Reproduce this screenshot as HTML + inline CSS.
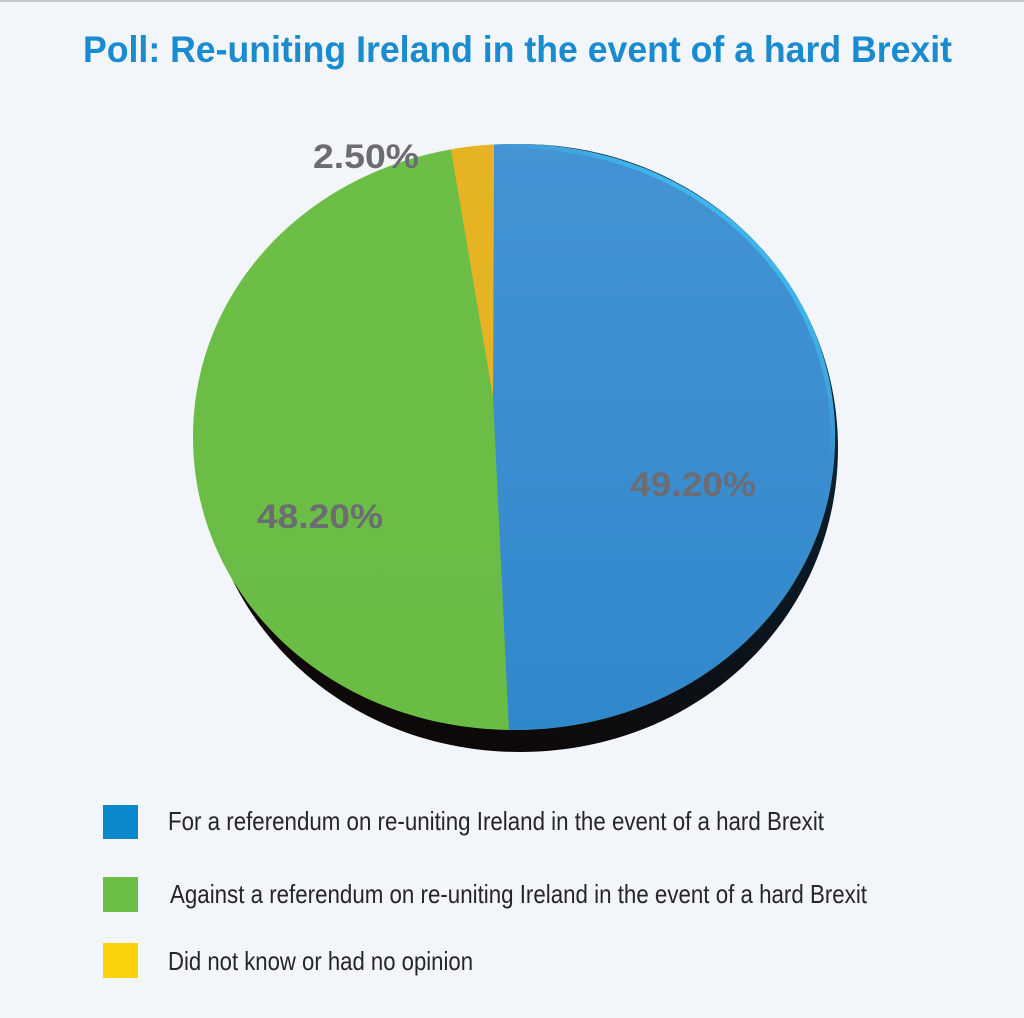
<!DOCTYPE html>
<html>
<head>
<meta charset="utf-8">
<style>
html,body{margin:0;padding:0;background:#f2f5fa;}
svg{display:block;}
</style>
</head>
<body>
<svg width="1024" height="1018" viewBox="0 0 1024 1018" xmlns="http://www.w3.org/2000/svg">
<defs>
  <clipPath id="face">
    <path d="M835,437 C835,272.9 693.8,144 514,144 C334.2,144 193,272.9 193,437 C193,601.1 334.2,730 514,730 C693.8,730 835,601.1 835,437 Z"/>
  </clipPath>
  <linearGradient id="shadowG" x1="830" y1="300" x2="520" y2="752" gradientUnits="userSpaceOnUse">
    <stop offset="0" stop-color="#0d3550"/>
    <stop offset="0.35" stop-color="#0a1a26"/>
    <stop offset="1" stop-color="#0e0909"/>
  </linearGradient>
  <linearGradient id="blueG" x1="0" y1="144" x2="0" y2="730" gradientUnits="userSpaceOnUse">
    <stop offset="0" stop-color="#4493d3"/>
    <stop offset="0.5" stop-color="#3b8ed0"/>
    <stop offset="1" stop-color="#3088cc"/>
  </linearGradient>
  <linearGradient id="greenG" x1="0" y1="144" x2="0" y2="730" gradientUnits="userSpaceOnUse">
    <stop offset="0" stop-color="#6dbe47"/>
    <stop offset="1" stop-color="#6abc45"/>
  </linearGradient>
  <linearGradient id="rimG" x1="520" y1="500" x2="800" y2="200" gradientUnits="userSpaceOnUse">
    <stop offset="0" stop-color="#3cb9ee" stop-opacity="0"/>
    <stop offset="0.58" stop-color="#3cb9ee" stop-opacity="0"/>
    <stop offset="0.8" stop-color="#3cb9ee" stop-opacity="0.9"/>
    <stop offset="1" stop-color="#3cb9ee" stop-opacity="1"/>
  </linearGradient>
</defs>

<rect x="0" y="0" width="1024" height="1018" fill="#f2f5fa"/>
<rect x="0" y="0" width="1024" height="2" fill="#c6cacf"/>

<text x="83" y="62" font-family="'Liberation Sans', sans-serif" font-weight="bold" font-size="37" fill="#1b8bcf" textLength="869" lengthAdjust="spacingAndGlyphs">Poll: Re-uniting Ireland in the event of a hard Brexit</text>

<path d="M838,448 C838,277.8 698.1,144 520,144 C341.9,144 202,277.8 202,448 C202,618.2 341.9,752 520,752 C698.1,752 838,618.2 838,448 Z" fill="url(#shadowG)"/>

<g clip-path="url(#face)">
  <rect x="150" y="100" width="750" height="700" fill="url(#greenG)"/>
  <polygon points="494.2,100 900,100 900,800 512.3,800 493,397" fill="url(#blueG)"/>
  <polygon points="493,397 442.5,100 494.2,100" fill="#e6b423"/>
  <path d="M835,437 C835,272.9 693.8,144 514,144 C334.2,144 193,272.9 193,437 C193,601.1 334.2,730 514,730 C693.8,730 835,601.1 835,437 Z" fill="none" stroke="url(#rimG)" stroke-width="9"/>
</g>

<g font-family="'Liberation Sans', sans-serif" font-weight="bold" font-size="34" fill="#6b6d72">
  <text x="313" y="168" textLength="106" lengthAdjust="spacingAndGlyphs">2.50%</text>
  <text x="630" y="496" textLength="126" lengthAdjust="spacingAndGlyphs">49.20%</text>
  <text x="257" y="528" textLength="126" lengthAdjust="spacingAndGlyphs">48.20%</text>
</g>

<rect x="103" y="805" width="35" height="34" fill="#0a87cd"/>
<rect x="103" y="877" width="35" height="35" fill="#6cbd45"/>
<rect x="103" y="943" width="35" height="35" fill="#fcd20a"/>
<g font-family="'Liberation Sans', sans-serif" font-size="26" fill="#262626">
  <text x="168" y="830" textLength="656" lengthAdjust="spacingAndGlyphs">For a referendum on re-uniting Ireland in the event of a hard Brexit</text>
  <text x="170" y="903" textLength="697" lengthAdjust="spacingAndGlyphs">Against a referendum on re-uniting Ireland in the event of a hard Brexit</text>
  <text x="168" y="970" textLength="305" lengthAdjust="spacingAndGlyphs">Did not know or had no opinion</text>
</g>
</svg>
</body>
</html>
